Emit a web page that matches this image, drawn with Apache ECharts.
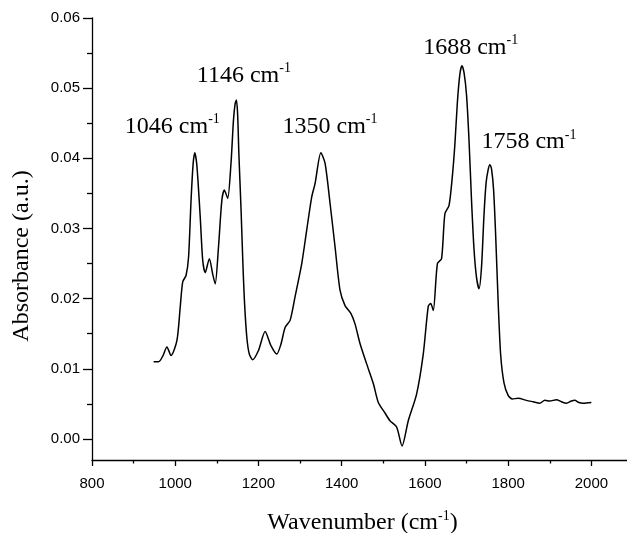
<!DOCTYPE html>
<html>
<head>
<meta charset="utf-8">
<script src="https://cdn.jsdelivr.net/npm/echarts@6/dist/echarts.min.js"></script>
<style>
  html, body { margin: 0; padding: 0; background: #fff; }
  #spectrum { width: 627px; height: 533px; }
</style>
</head>
<body>
<div id="spectrum"></div>
<script>
// wavenumber (cm-1) and absorbance
var wavenumbers = [948, 960, 970, 980, 990, 1004, 1012, 1018, 1026, 1032, 1038, 1043, 1047, 1052, 1060, 1066, 1072, 1082, 1090, 1096,
  1104, 1112, 1118, 1126, 1134, 1140, 1144, 1147, 1150, 1153, 1158, 1162, 1166, 1172, 1178, 1186, 1200, 1216, 1230, 1244,
  1254, 1264, 1276, 1288, 1304, 1316, 1328, 1336, 1350, 1360, 1372, 1384, 1396, 1408, 1422, 1432, 1444, 1460, 1476, 1488,
  1504, 1516, 1532, 1545, 1560, 1580, 1596, 1608, 1614, 1620, 1630, 1640, 1648, 1658, 1666, 1672, 1678, 1684, 1689, 1694,
  1700, 1706, 1712, 1718, 1724, 1730, 1736, 1742, 1747, 1752, 1756, 1760, 1765, 1770, 1776, 1782, 1790, 1800, 1810, 1824,
  1844, 1860, 1876, 1888, 1900, 1916, 1928, 1940, 1952, 1960, 1970, 1980, 2000];
var absorbance = [0.0110, 0.0110, 0.0118, 0.0131, 0.0119, 0.0140, 0.0188, 0.0224, 0.0233, 0.0259, 0.0340, 0.0392, 0.0408, 0.0390, 0.0317, 0.0255, 0.0237, 0.0257, 0.0235, 0.0221,
  0.0274, 0.0340, 0.0355, 0.0343, 0.0393, 0.0455, 0.0478, 0.0483, 0.0462, 0.0405, 0.0330, 0.0260, 0.0200, 0.0145, 0.0121, 0.0113, 0.0126, 0.0153, 0.0133, 0.0121,
  0.0135, 0.0159, 0.0169, 0.0203, 0.0250, 0.0298, 0.0345, 0.0364, 0.0408, 0.0393, 0.0336, 0.0274, 0.0212, 0.0190, 0.0179, 0.0164, 0.0136, 0.0107, 0.0079, 0.0052,
  0.0037, 0.0026, 0.0017, -0.0010, 0.0026, 0.0064, 0.0121, 0.0189, 0.0193, 0.0183, 0.0250, 0.0257, 0.0321, 0.0333, 0.0375, 0.0420, 0.0480, 0.0520, 0.0532, 0.0522,
  0.0490, 0.0425, 0.0340, 0.0270, 0.0230, 0.0214, 0.0245, 0.0320, 0.0365, 0.0384, 0.0391, 0.0385, 0.0355, 0.0290, 0.0195, 0.0120, 0.0080, 0.0062, 0.0057, 0.0058,
  0.0055, 0.0053, 0.0051, 0.0055, 0.0054, 0.0056, 0.0053, 0.0051, 0.0054, 0.0055, 0.0052, 0.0051, 0.0052];

// peak annotations: label + where the text sits (data units)
var peakLabels = ['1046', '1146', '1350', '1688', '1758'];
var peakTextX = [993, 1165, 1372, 1710, 1850];
var peakTextY = [0.0445, 0.0518, 0.0445, 0.0558, 0.0423];

// tick values
var xMajorTicks = [800, 1000, 1200, 1400, 1600, 1800, 2000];
var xMinorTicks = [900, 1100, 1300, 1500, 1700, 1900];
var yMajorTicks = [0, 0.01, 0.02, 0.03, 0.04, 0.05, 0.06];
var yMinorTicks = [0.005, 0.015, 0.025, 0.035, 0.045, 0.055];

var chart = echarts.init(document.getElementById('spectrum'));

var serif = 'Liberation Serif, Times New Roman, serif';
var sans = 'Liberation Sans, Arial, sans-serif';
var ink = '#000';

var points = wavenumbers.map(function (w, i) { return [w, absorbance[i]]; });

var marks = peakLabels.map(function (p, i) {
  return { coord: [peakTextX[i], peakTextY[i]], name: p };
});

var supRich = {
  n: { fontFamily: serif, fontSize: 24, color: ink, lineHeight: 28 },
  s: { fontFamily: serif, fontSize: 14, color: ink, verticalAlign: 'top', lineHeight: 14 }
};

var option = {
  backgroundColor: '#fff',
  animation: false,
  grid: { left: 92, top: 18, bottom: 73, right: -6, outerBoundsMode: 'none', containLabel: false },
  xAxis: [
    {
      type: 'value',
      min: 800,
      max: 2100,
      name: '{n|Wavenumber (cm}{s|-1}{n|)}',
      nameLocation: 'middle',
      nameGap: 49,
      nameTextStyle: { rich: supRich },
      axisLine: { onZero: false, lineStyle: { color: ink, width: 1.3 } },
      axisTick: { customValues: xMajorTicks, length: 6, lineStyle: { color: ink, width: 1.3 } },
      axisLabel: {
        customValues: xMajorTicks, color: ink, fontFamily: sans, fontSize: 15, margin: 16,
        formatter: function (v) { return String(v); }
      },
      splitLine: { show: false }
    },
    {
      // minor ticks only
      type: 'value',
      position: 'bottom',
      min: 800,
      max: 2100,
      axisLine: { show: false, onZero: false },
      axisTick: { customValues: xMinorTicks, length: 3.5, lineStyle: { color: ink, width: 1.3 } },
      axisLabel: { show: false },
      splitLine: { show: false }
    }
  ],
  yAxis: [
    {
      type: 'value',
      min: -0.003,
      max: 0.06,
      name: 'Absorbance (a.u.)',
      nameLocation: 'middle',
      nameGap: 58,
      nameTextStyle: { fontFamily: serif, fontSize: 24, color: ink, padding: [0, 34, 0, 0] },
      axisLine: { show: true, onZero: false, lineStyle: { color: ink, width: 1.3 } },
      axisTick: { show: true, customValues: yMajorTicks, length: 9, lineStyle: { color: ink, width: 1.3 } },
      axisLabel: {
        customValues: yMajorTicks, color: ink, fontFamily: sans, fontSize: 15, margin: 12,
        formatter: function (v) { return v.toFixed(2); }
      },
      splitLine: { show: false }
    },
    {
      type: 'value',
      position: 'left',
      min: -0.003,
      max: 0.06,
      axisLine: { show: false, onZero: false },
      axisTick: { show: true, customValues: yMinorTicks, length: 5, lineStyle: { color: ink, width: 1.3 } },
      axisLabel: { show: false },
      splitLine: { show: false }
    }
  ],
  series: [
    {
      type: 'line',
      data: points,
      smooth: 0.25,
      showSymbol: false,
      lineStyle: { color: ink, width: 1.5 },
      markPoint: {
        symbol: 'circle',
        symbolSize: 1,
        itemStyle: { color: 'rgba(0,0,0,0)' },
        data: marks,
        label: {
          show: true,
          position: 'inside',
          formatter: function (p) { return '{n|' + p.name + ' cm}{s|-1}'; },
          rich: supRich
        }
      }
    }
  ]
};

option && chart.setOption(option);
</script>
</body>
</html>
